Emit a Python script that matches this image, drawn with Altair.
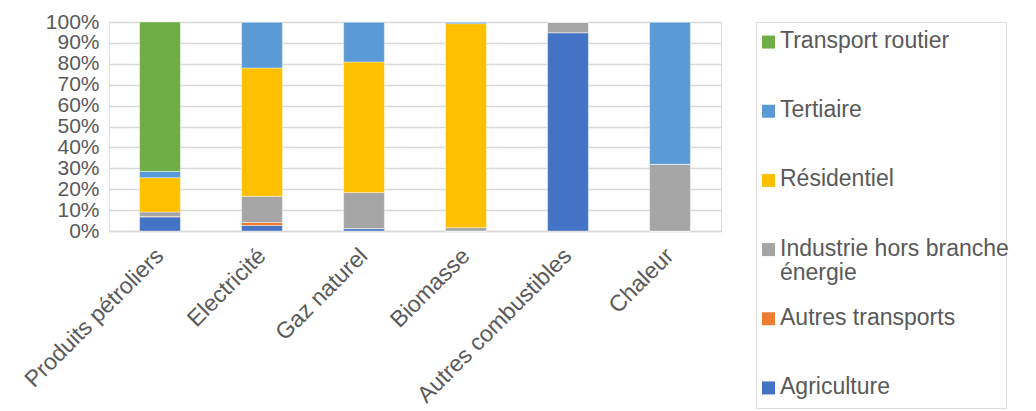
import altair as alt
import pandas as pd

categories = ["Produits pétroliers", "Electricité", "Gaz naturel", "Biomasse",
              "Autres combustibles", "Chaleur"]

sectors = ["Agriculture", "Autres transports", "Industrie hors branche énergie",
           "Résidentiel", "Tertiaire", "Transport routier"]
colors = ["#4472C4", "#ED7D31", "#A5A5A5", "#FFC000", "#5B9BD5", "#70AD47"]

agriculture = [6.7, 2.6, 1.1, 0.0, 94.9, 0.0]
autres_transports = [0.3, 1.5, 0.1, 0.0, 0.0, 0.0]
industrie = [2.1, 12.5, 17.2, 1.6, 5.1, 31.9]
residentiel = [16.4, 61.4, 62.5, 97.6, 0.0, 0.0]
tertiaire = [3.0, 22.0, 19.1, 0.8, 0.0, 68.1]
transport_routier = [71.5, 0.0, 0.0, 0.0, 0.0, 0.0]

series = [agriculture, autres_transports, industrie, residentiel, tertiaire, transport_routier]

rows = []
for si, (s, vals) in enumerate(zip(sectors, series)):
    for c, v in zip(categories, vals):
        rows.append({"cat": c, "sector": s, "order": si, "value": v})
df = pd.DataFrame(rows)

color_scale = alt.Scale(domain=sectors, range=colors)

FONT = "Liberation Sans"
GREY = "#595959"

bars = alt.Chart(df).mark_bar(stroke="white", strokeWidth=0.4).encode(
    x=alt.X("cat:N", sort=categories, title=None,
            scale=alt.Scale(paddingInner=0.6, paddingOuter=0.3),
            axis=alt.Axis(labelAngle=-45, labelAlign="right", labelBaseline="middle",
                          labelFontSize=23, labelColor=GREY, labelFont=FONT,
                          labelPadding=21, ticks=False, domainColor="#d9d9d9",
                          domainWidth=1.5, labelLimit=400)),
    y=alt.Y("value:Q", stack="normalize", title=None,
            scale=alt.Scale(domain=[0, 1], nice=False),
            axis=alt.Axis(format=".0%", values=[i / 10 for i in range(11)],
                          labelFontSize=21, labelColor=GREY, labelFont=FONT,
                          labelPadding=10, ticks=False, domain=False,
                          labelOverlap=False,
                          gridColor="#d9d9d9", gridWidth=1.5)),
    color=alt.Color("sector:N", scale=color_scale, legend=None),
    order=alt.Order("order:Q", sort="ascending"),
).properties(width=612, height=209)

legend_df = pd.DataFrame({
    "sector": sectors[::-1],
    "label": [s if s != "Industrie hors branche énergie" else "Industrie hors branche\nénergie"
              for s in sectors[::-1]],
})

ly = alt.Y("sector:N", sort=sectors[::-1], axis=None,
           scale=alt.Scale(type="point", padding=0.29))

leg_sym = alt.Chart(legend_df).mark_square(size=169, opacity=1).encode(
    x=alt.value(12.5),
    y=ly,
    color=alt.Color("sector:N", scale=color_scale, legend=None),
)
leg_txt = alt.Chart(legend_df).mark_text(
    align="left", baseline="top", dy=-12, fontSize=23, font=FONT, color=GREY,
    lineBreak="\n", lineHeight=24,
).encode(
    x=alt.value(24),
    y=ly,
    text="label:N",
)
legend = alt.layer(leg_sym, leg_txt).properties(width=250, height=386)

chart = alt.hconcat(bars, legend, spacing=33).properties(
    padding={"left": 20, "top": 10, "right": 0, "bottom": 0}
).configure_view(strokeWidth=0).configure(font=FONT)

chart.save("out.html", embed_options={"renderer": "svg", "actions": False})
